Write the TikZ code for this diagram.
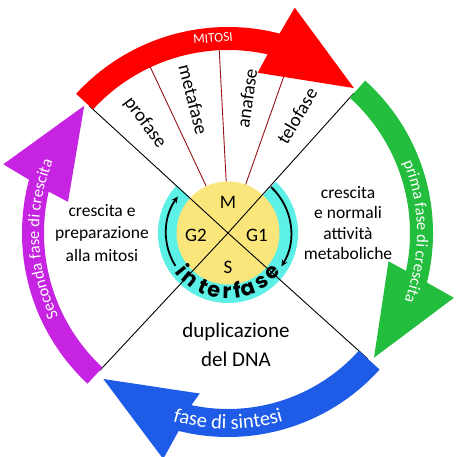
\documentclass[tikz,border=0pt]{standalone}
\usepackage{fontspec}
\setmainfont{Carlito}
\newfontfamily\intfont{Poppins}
\usetikzlibrary{decorations.text,arrows.meta}
\definecolor{cred}{RGB}{255,0,0}
\definecolor{cgreen}{RGB}{36,190,62}
\definecolor{cblue}{RGB}{30,92,232}
\definecolor{cpurple}{RGB}{198,36,226}
\definecolor{cyellow}{RGB}{250,230,122}
\definecolor{ccyan}{RGB}{92,240,230}
\definecolor{cdred}{RGB}{150,20,24}
\newcommand\bandfont[1]{\fontsize{#1}{#1}\selectfont}
% colour, start angle, inner radius, outer radius
\newcommand\cycarrow[4]{%
  \pgfmathsetmacro\aS{#2}%
  \pgfmathsetmacro\aO{#2-62}%
  \pgfmathsetmacro\aOB{#2-64}%
  \pgfmathsetmacro\aT{#2-88.5}%
  \pgfmathsetmacro\aIB{#2-58}%
  \pgfmathsetmacro\aI{#2-60}%
  \fill[#1] (\aS:#4) arc[start angle=\aS, end angle=\aO, radius=#4]
    -- (\aOB:235) -- (\aT:192) -- (\aIB:163) -- (\aI:#3)
    arc[start angle=\aI, end angle=\aS, radius=#3] -- cycle;}
\begin{document}
\begin{tikzpicture}[x=1pt,y=1pt,
  divider/.style={black, line width=0.9pt},
  phaseline/.style={cdred, line width=0.9pt},
  phaselabel/.style={font=\fontsize{19}{19}\selectfont, inner sep=0pt},
  quad/.style={font=\fontsize{19}{19}\selectfont, inner sep=0pt},
  intletter/.style={font=\intfont\bfseries\fontsize{21}{21}\selectfont, inner sep=0pt, anchor=base},
  cyclearc/.style={line width=1.8pt, -{Stealth[length=6.5pt,width=6pt]}},
  sidetext/.style={align=center, inner sep=0pt},
  bandtext/.style={white, inner sep=0pt}
]
\useasboundingbox (-228,-224) rectangle (232,233);
\fill[white] (-228,-224) rectangle (232,233);

% cyan ring sector and yellow core
\fill[ccyan] (0,0) -- (47:70) arc[start angle=47, end angle=-223, radius=70] -- cycle;
\node[circle, fill=cyellow, minimum size=103pt, inner sep=0pt] (core) at (0,0) {};

% end points of the dividers and phase lines
\coordinate (dA) at (137.5:188);
\coordinate (dB) at (48:188);
\coordinate (dC) at (-42:188);
\coordinate (dD) at (-133:188);
\coordinate (p1) at (115.1:185);
\coordinate (p2) at (92.75:185);
\coordinate (p3) at (70.4:185);

\draw[phaseline] (core.115.1) -- (p1);
\draw[phaseline] (core.92.75) -- (p2);
\draw[phaseline] (core.70.4) -- (p3);

\draw[divider] (core.center) -- (dA);
\draw[divider] (core.center) -- (dB);
\draw[divider] (core.center) -- (dC);
\draw[divider] (core.center) -- (dD);

% interphase arrows
\draw[cyclearc] (212:62) arc[start angle=212, end angle=144, radius=62];
\draw[cyclearc] (47:63) arc[start angle=47, end angle=-32, radius=63];

% interfase
\foreach \ch/\ang in {i/219, n/231, t/245, e/257, r/269, f/279, a/290, s/304, e/318}{
  \pgfmathsetmacro\rot{\ang+90}
  \node[intletter, rotate=\rot] (L\ang) at (\ang:66) {\ch};
}

% quadrant letters
\node[quad] (qM) at (0,31) {M};
\node[quad] (qG2) at (-32,-2) {G2};
\node[quad] (qG1) at (29,-2) {G1};
\node[quad] (qS) at (0,-34) {S};

% outer arrows
\cycarrow{cred}{137.5}{183}{206}
\cycarrow{cgreen}{48}{182}{205}
\cycarrow{cblue}{-42}{176}{204}
\cycarrow{cpurple}{227}{184}{206}

% mitosis phases
\node[phaselabel, rotate=-53] (ph1) at (127:138) {profase};
\node[phaselabel, rotate=-75.5] (ph2) at (104.5:138) {metafase};
\node[phaselabel, rotate=82] (ph3) at (82:136) {anafase};
\node[phaselabel, rotate=59.5] (ph4) at (59.5:136) {telofase};

% side texts
\node[sidetext, font=\fontsize{17.5}{22.5}\selectfont] (tl) at (-126,0) {crescita e\\preparazione\\alla mitosi};
\node[sidetext, font=\fontsize{17.5}{20.5}\selectfont] (tr) at (120,10) {crescita\\e normali\\attività\\metaboliche};
\node[sidetext, font=\fontsize{21}{29}\selectfont] (tb) at (8,-112) {duplicazione\\del DNA};

% band texts
\node[bandtext, rotate=4.4, font=\fontsize{13.5}{13.5}\selectfont] (mit) at (94.4:195.5) {MITOSI};
\path[decorate, decoration={text along path, text align=center, text color=white,
  text={|\bandfont{16.5}|prima fase di crescita}}]
  (40.5:189) arc[start angle=40.5, end angle=-39.5, radius=189];
\path[decorate, decoration={text along path, text align=center, text color=white,
  text={|\bandfont{16.5}|Seconda fase di crescita}}]
  (222:189) arc[start angle=222, end angle=142, radius=189];
\path[decorate, decoration={text along path, text align=center, text color=white,
  text={|\bandfont{20.5}|fase di sintesi}}]
  (-130:196) arc[start angle=-130, end angle=-50, radius=196];
\end{tikzpicture}
\end{document}
